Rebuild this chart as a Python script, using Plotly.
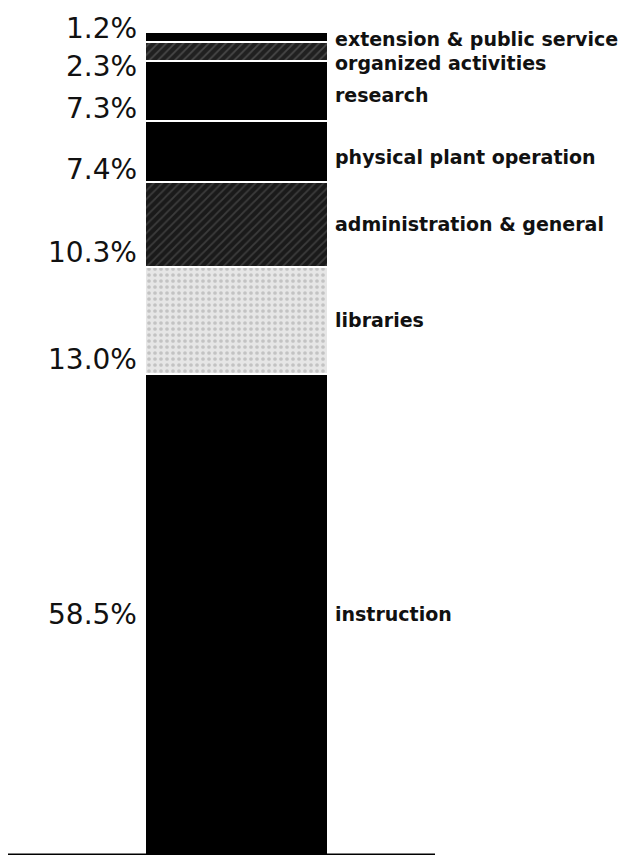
import plotly.graph_objects as go

categories = ["instruction", "libraries", "administration & general",
              "physical plant operation", "research", "organized activities",
              "extension & public service"]
values = [58.5, 13.0, 10.3, 7.4, 7.3, 2.3, 1.2]
pct_labels = ["58.5%", "13.0%", "10.3%", "7.4%", "7.3%", "2.3%", "1.2%"]

colors = ["#000000", "#e6e6e6", "#1a1a1a", "#000000", "#000000", "#202020", "#000000"]
patterns = ["", ".", "/", "", "", "/", ""]
pat_fg = ["#000000", "#a0a0a0", "#5e5e5e", "#000000", "#000000", "#707070", "#000000"]

# page offset compensation (browser body margin of 8px)
OFF = 8
W, H = 644 - OFF, 858 - OFF
BAR_L, BAR_R = 145 - OFF, 328 - OFF
bar_w = BAR_R - BAR_L
bar_c = (BAR_L + BAR_R) / 2

fig = go.Figure()
for c, v, col, p, fg in zip(categories, values, colors, patterns, pat_fg):
    fig.add_trace(go.Bar(
        x=[0], y=[v], name=c, width=1,
        marker=dict(color=col, line=dict(color="white", width=2),
                    pattern=dict(shape=p, fgcolor=fg, size=6, solidity=0.3)),
        hoverinfo="skip", showlegend=False))

pct_shift = {"2.3%": -24, "1.2%": -5, "7.3%": -6, "7.4%": -6, "10.3%": -4, "13.0%": -4}
cat_shift = {"organized activities": -12, "extension & public service": -2,
             "research": -4, "physical plant operation": -6}

cum = 0
annotations = []
for c, v, lab in zip(categories, values, pct_labels):
    mid = cum + v / 2
    if cum == 0:
        py, anchor = mid, "middle"
    else:
        py, anchor = cum, "bottom"
    annotations.append(dict(x=(139 - OFF) / W, xref="paper", y=py, yref="y",
                            text=lab, showarrow=False, xanchor="right", yanchor=anchor,
                            yshift=pct_shift.get(lab, 0),
                            font=dict(family="DejaVu Sans", size=28, color="#111")))
    annotations.append(dict(x=(333 - OFF) / W, xref="paper", y=mid, yref="y",
                            text="<b>" + c + "</b>", showarrow=False, xanchor="left",
                            yanchor="middle", yshift=cat_shift.get(c, 0),
                            font=dict(family="DejaVu Sans", size=19, color="#111")))
    cum += v

fig.update_layout(
    barmode="stack", width=W, height=H,
    margin=dict(l=0, r=0, t=32 - OFF, b=H - (855 - OFF)),
    paper_bgcolor="white", plot_bgcolor="white",
    xaxis=dict(range=[-bar_c / bar_w, (W - bar_c) / bar_w], visible=False, fixedrange=True),
    yaxis=dict(range=[0, 100], visible=False, fixedrange=True),
    annotations=annotations,
    bargap=0,
    shapes=[dict(type="line", xref="paper", yref="y", x0=0, x1=(435 - OFF) / W, y0=0, y1=0,
                 line=dict(color="black", width=3))],
)

fig.write_html("out.html")
